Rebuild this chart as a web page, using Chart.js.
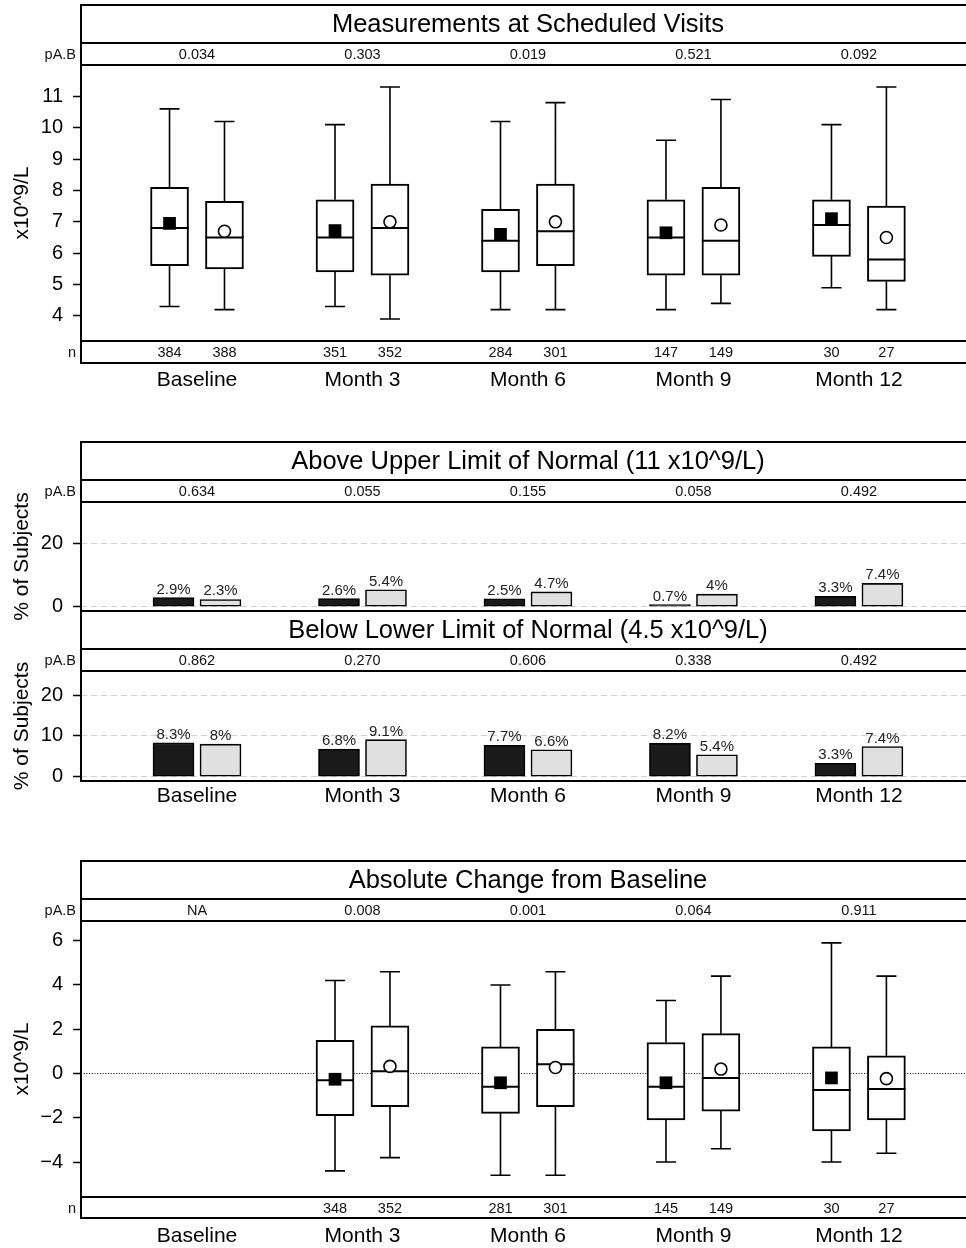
<!doctype html>
<html>
<head>
<meta charset="utf-8">
<title>Measurements at Scheduled Visits</title>
<script src="https://cdn.jsdelivr.net/npm/chart.js@4.4.1/dist/chart.umd.min.js"></script>
<style>
  html, body { margin: 0; padding: 0; background: #ffffff; overflow: hidden; }
  #page { position: relative; width: 966px; height: 1248px; overflow: hidden; background: #ffffff; }
  #page canvas { position: absolute; left: 0; }
</style>
</head>
<body>
<div id="page">
  <canvas id="visitChart" width="966" height="400" style="top:0px"></canvas>
  <canvas id="aboveChart" width="966" height="200" style="top:430px"></canvas>
  <canvas id="belowChart" width="966" height="220" style="top:600px"></canvas>
  <canvas id="changeChart" width="966" height="398" style="top:850px"></canvas>
</div>
<script>
const visits = ['Baseline', 'Month 3', 'Month 6', 'Month 9', 'Month 12'];

// Measurements at scheduled visits (x10^9/L); A = filled square, B = open circle
const measMinA  = [4.3, 4.3, 4.2, 4.2, 4.9];
const measQ1A   = [5.6, 5.4, 5.4, 5.3, 5.9];
const measMedA  = [6.8, 6.5, 6.4, 6.5, 6.9];
const measQ3A   = [8.1, 7.7, 7.4, 7.7, 7.7];
const measMaxA  = [10.6, 10.1, 10.2, 9.6, 10.1];
const measMeanA = [6.95, 6.72, 6.6, 6.65, 7.1];
const measMinB  = [4.2, 3.9, 4.2, 4.4, 4.2];
const measQ1B   = [5.5, 5.3, 5.6, 5.3, 5.1];
const measMedB  = [6.5, 6.8, 6.7, 6.4, 5.8];
const measQ3B   = [7.65, 8.2, 8.2, 8.1, 7.5];
const measMaxB  = [10.2, 11.3, 10.8, 10.9, 11.3];
const measMeanB = [6.7, 7.0, 7.0, 6.9, 6.5];
const measNA = [384, 351, 284, 147, 30];
const measNB = [388, 352, 301, 149, 27];
const measP  = ['0.034', '0.303', '0.019', '0.521', '0.092'];
const measTicks = [4, 5, 6, 7, 8, 9, 10, 11];

// % of subjects outside the normal range
const aboveA = [2.9, 2.6, 2.5, 0.7, 3.3];
const aboveB = [2.3, 5.4, 4.7, 4, 7.4];
const aboveP = ['0.634', '0.055', '0.155', '0.058', '0.492'];
const belowA = [8.3, 6.8, 7.7, 8.2, 3.3];
const belowB = [8, 9.1, 6.6, 5.4, 7.4];
const belowP = ['0.862', '0.270', '0.606', '0.338', '0.492'];
const aboveTicks = [0, 20];
const belowTicks = [0, 10, 20];

// Absolute change from baseline (x10^9/L); no change at baseline itself
const chgMinA  = [null, -4.4, -4.6, -4.0, -4.0];
const chgQ1A   = [null, -1.9, -1.8, -2.1, -2.6];
const chgMedA  = [null, -0.3, -0.6, -0.6, -0.74];
const chgQ3A   = [null, 1.5, 1.2, 1.4, 1.2];
const chgMaxA  = [null, 4.2, 4.0, 3.3, 5.9];
const chgMeanA = [null, -0.26, -0.42, -0.42, -0.2];
const chgMinB  = [null, -3.8, -4.6, -3.4, -3.6];
const chgQ1B   = [null, -1.5, -1.5, -1.7, -2.1];
const chgMedB  = [null, 0.1, 0.42, -0.2, -0.7];
const chgQ3B   = [null, 2.15, 2.0, 1.8, 0.8];
const chgMaxB  = [null, 4.6, 4.6, 4.4, 4.4];
const chgMeanB = [null, 0.32, 0.27, 0.2, -0.23];
const chgNA = [null, 348, 281, 145, 30];
const chgNB = [null, 352, 301, 149, 27];
const chgP  = ['NA', '0.008', '0.001', '0.064', '0.911'];
const chgTicks = [-4, -2, 0, 2, 4, 6];

const FONT = '"Liberation Sans", Arial, Helvetica, sans-serif';
Chart.defaults.font.family = FONT;
Chart.defaults.color = '#000';
Chart.defaults.animation = false;
Chart.defaults.plugins.legend.display = false;
Chart.defaults.plugins.tooltip.enabled = false;

// x axis in "visit index" units; left frame sits 0.7 units before Baseline
const X_MIN = -0.701, X_MAX = 4.647;
const BOX_OFFSET = 0.166, BAR_OFFSET = 0.142, CAP = 10;

function pts(values, off) {
  return values.map((v, i) => ({ x: i + off, y: v })).filter(p => p.y !== null);
}
function spans(lo, hi, off) {
  return lo.map((v, i) => ({ x: i + off, y: [v, hi[i]] })).filter(p => p.y[0] !== null);
}

function xScale(showLabels, labelPad, height) {
  return {
    type: 'linear', min: X_MIN, max: X_MAX, offset: false, display: showLabels,
    grid: { display: false, drawTicks: false, offset: false }, border: { display: false },
    afterBuildTicks: s => { s.ticks = visits.map((_, i) => ({ value: i })); },
    afterFit: s => { s.height = height; s.paddingLeft = 0; s.paddingRight = 0; },
    ticks: { callback: v => visits[v], font: { size: 21 }, color: '#000', padding: labelPad, autoSkip: false, maxRotation: 0 }
  };
}

function yScale(min, max, tickValues, title, grid, dash) {
  return {
    type: 'linear', position: 'left', min, max,
    afterBuildTicks: s => { s.ticks = tickValues.map(v => ({ value: v })); },
    afterFit: s => { s.width = 81; s.paddingTop = 0; s.paddingBottom = 0; },
    ticks: { font: { size: 20 }, color: '#000', padding: 10, callback: v => String(v).replace('-', '\u2212') },
    grid: Object.assign({ tickColor: '#000', tickLength: 8, tickWidth: 1.5, lineWidth: 1, tickBorderDash: [] }, grid),
    border: { display: false, dash: dash || [] },
    title: { display: true, text: title, font: { size: 21 }, color: '#000', padding: { top: 10, bottom: 0 } }
  };
}

// title band, pA.B band, n band and the open frame around each panel
function frameLayer(f) {
  return {
    id: 'frameLayer',
    afterDraw(chart) {
      const { ctx, chartArea: a, scales: { x } } = chart;
      const right = chart.width + 5;
      const bottom = f.nLine || a.bottom;
      const rows = [f.frameTop, f.titleLine, a.top, a.bottom].concat(f.nLine ? [f.nLine] : []);
      ctx.save();
      ctx.strokeStyle = '#000';
      ctx.lineWidth = 2;
      ctx.beginPath();
      rows.forEach(yy => { const r = Math.round(yy); ctx.moveTo(a.left - 1, r); ctx.lineTo(right, r); });
      ctx.moveTo(a.left, Math.round(f.frameTop) - 1);
      ctx.lineTo(a.left, Math.round(bottom) + 1);
      ctx.stroke();

      ctx.fillStyle = '#000';
      ctx.textBaseline = 'middle';
      ctx.textAlign = 'center';
      ctx.font = '25.5px ' + FONT;
      ctx.fillText(f.title, x.getPixelForValue((visits.length - 1) / 2), (f.frameTop + f.titleLine) / 2 + 1);

      ctx.font = '14.5px ' + FONT;
      ctx.fillStyle = '#111';
      const pY = (f.titleLine + a.top) / 2 + 1;
      f.p.forEach((p, i) => ctx.fillText(p, x.getPixelForValue(i), pY));
      let nY = 0;
      if (f.nLine) {
        nY = (a.bottom + f.nLine) / 2 + 1;
        f.nA.forEach((n, i) => { if (n !== null) ctx.fillText(String(n), x.getPixelForValue(i - BOX_OFFSET), nY); });
        f.nB.forEach((n, i) => { if (n !== null) ctx.fillText(String(n), x.getPixelForValue(i + BOX_OFFSET), nY); });
      }
      ctx.textAlign = 'right';
      ctx.fillText('pA.B', a.left - 5, pY);
      if (f.nLine) ctx.fillText('n', a.left - 5, nY);
      ctx.restore();
    }
  };
}

// whisker stems and caps, drawn under the boxes
function whiskerLayer(groups) {
  return {
    id: 'whiskers',
    beforeDatasetsDraw(chart) {
      const { ctx, scales: { x, y } } = chart;
      ctx.save();
      ctx.strokeStyle = '#000';
      ctx.lineWidth = 1.6;
      ctx.beginPath();
      groups.forEach(g => g.lo.forEach((lo, i) => {
        if (lo === null) return;
        const px = x.getPixelForValue(i + g.off);
        const yLo = y.getPixelForValue(lo), yHi = y.getPixelForValue(g.hi[i]);
        ctx.moveTo(px, yLo); ctx.lineTo(px, y.getPixelForValue(g.q1[i]));
        ctx.moveTo(px, y.getPixelForValue(g.q3[i])); ctx.lineTo(px, yHi);
        ctx.moveTo(px - CAP, yLo); ctx.lineTo(px + CAP, yLo);
        ctx.moveTo(px - CAP, yHi); ctx.lineTo(px + CAP, yHi);
      }));
      ctx.stroke();
      ctx.restore();
    }
  };
}

const barLabels = {
  id: 'barLabels',
  afterDatasetsDraw(chart) {
    const ctx = chart.ctx;
    ctx.save();
    ctx.font = '15px ' + FONT;
    ctx.fillStyle = '#222';
    ctx.textAlign = 'center';
    ctx.textBaseline = 'alphabetic';
    chart.data.datasets.forEach((ds, di) => {
      chart.getDatasetMeta(di).data.forEach((el, i) => {
        ctx.fillText(ds.data[i].y + '%', el.x, el.y - 4);
      });
    });
    ctx.restore();
  }
};

function boxDatasets(s) {
  const box = { type: 'bar', backgroundColor: '#ffffff', borderColor: '#000', borderWidth: 2,
    borderSkipped: false, barThickness: 38, grouped: false };
  const med = { type: 'scatter', pointStyle: 'line', pointRadius: 19, pointHoverRadius: 19,
    pointBorderColor: '#000', pointBorderWidth: 2 };
  return [
    { type: 'scatter', data: pts(s.meanA, -BOX_OFFSET), pointStyle: 'rect', pointRadius: 9, pointHoverRadius: 9,
      pointBackgroundColor: '#000', pointBorderColor: '#000', pointBorderWidth: 0 },
    { type: 'scatter', data: pts(s.meanB, BOX_OFFSET), pointStyle: 'circle', pointRadius: 6, pointHoverRadius: 6,
      pointBackgroundColor: '#fff', pointBorderColor: '#000', pointBorderWidth: 1.6 },
    Object.assign({ data: pts(s.medA, -BOX_OFFSET) }, med),
    Object.assign({ data: pts(s.medB, BOX_OFFSET) }, med),
    Object.assign({ data: spans(s.q1A, s.q3A, -BOX_OFFSET) }, box),
    Object.assign({ data: spans(s.q1B, s.q3B, BOX_OFFSET) }, box)
  ];
}

function barDatasets(valsA, valsB) {
  const bar = { type: 'bar', borderColor: '#000', borderWidth: 1.6, borderSkipped: false, barThickness: 41, grouped: false };
  return [
    Object.assign({ data: pts(valsA, -BAR_OFFSET), backgroundColor: '#1a1a1a' }, bar),
    Object.assign({ data: pts(valsB, BAR_OFFSET), backgroundColor: '#e0e0e0' }, bar)
  ];
}

// Panel 1: measurements at scheduled visits
new Chart(document.getElementById('visitChart'), {
  type: 'bar',
  data: { datasets: boxDatasets({ meanA: measMeanA, meanB: measMeanB, medA: measMedA, medB: measMedB,
    q1A: measQ1A, q3A: measQ3A, q1B: measQ1B, q3B: measQ3B }) },
  options: {
    responsive: false, devicePixelRatio: 1,
    layout: { autoPadding: false, padding: { top: 65, left: 0, right: 0, bottom: 0 } },
    scales: {
      x: xScale(true, 27, 59),
      y: yScale(3.2, 12.0, measTicks, 'x10^9/L', { drawOnChartArea: false })
    }
  },
  plugins: [
    whiskerLayer([
      { off: -BOX_OFFSET, lo: measMinA, q1: measQ1A, q3: measQ3A, hi: measMaxA },
      { off: BOX_OFFSET, lo: measMinB, q1: measQ1B, q3: measQ3B, hi: measMaxB }
    ]),
    frameLayer({ frameTop: 5, titleLine: 43, nLine: 363, title: 'Measurements at Scheduled Visits',
      p: measP, nA: measNA, nB: measNB })
  ]
});

// Panel 2a: above upper limit of normal (canvas runs past the plot so the axis title is not clipped)
new Chart(document.getElementById('aboveChart'), {
  type: 'bar',
  data: { datasets: barDatasets(aboveA, aboveB) },
  options: {
    responsive: false, devicePixelRatio: 1,
    layout: { autoPadding: false, padding: { top: 72, left: 0, right: 0, bottom: 19 } },
    scales: {
      x: xScale(false, 0, 0),
      y: yScale(-1.365, 33.3, aboveTicks, '% of Subjects', { drawOnChartArea: true, color: '#d0d0d0' }, [6, 4])
    }
  },
  plugins: [barLabels, frameLayer({ frameTop: 12, titleLine: 50, title: 'Above Upper Limit of Normal (11 x10^9/L)', p: aboveP })]
});

// Panel 2b: below lower limit of normal
new Chart(document.getElementById('belowChart'), {
  type: 'bar',
  data: { datasets: barDatasets(belowA, belowB) },
  options: {
    responsive: false, devicePixelRatio: 1,
    layout: { autoPadding: false, padding: { top: 71, left: 0, right: 0, bottom: 0 } },
    scales: {
      x: xScale(true, 3, 39),
      y: yScale(-1.05, 25.95, belowTicks, '% of Subjects', { drawOnChartArea: true, color: '#d0d0d0' }, [6, 4])
    }
  },
  plugins: [barLabels, frameLayer({ frameTop: 11, titleLine: 49, title: 'Below Lower Limit of Normal (4.5 x10^9/L)', p: belowP })]
});

// Panel 3: absolute change from baseline
new Chart(document.getElementById('changeChart'), {
  type: 'bar',
  data: { datasets: boxDatasets({ meanA: chgMeanA, meanB: chgMeanB, medA: chgMedA, medB: chgMedB,
    q1A: chgQ1A, q3A: chgQ3A, q1B: chgQ1B, q3B: chgQ3B }) },
  options: {
    responsive: false, devicePixelRatio: 1,
    layout: { autoPadding: false, padding: { top: 71, left: 0, right: 0, bottom: 0 } },
    scales: {
      x: xScale(true, 27, 51),
      y: yScale(-5.58, 6.89, chgTicks, 'x10^9/L',
        { drawOnChartArea: true, color: c => (c.tick && c.tick.value === 0 ? '#000' : 'rgba(0,0,0,0)') }, [1, 1.7])
    }
  },
  plugins: [
    whiskerLayer([
      { off: -BOX_OFFSET, lo: chgMinA, q1: chgQ1A, q3: chgQ3A, hi: chgMaxA },
      { off: BOX_OFFSET, lo: chgMinB, q1: chgQ1B, q3: chgQ3B, hi: chgMaxB }
    ]),
    frameLayer({ frameTop: 11, titleLine: 49, nLine: 368, title: 'Absolute Change from Baseline',
      p: chgP, nA: chgNA, nB: chgNB })
  ]
});
</script>
</body>
</html>
